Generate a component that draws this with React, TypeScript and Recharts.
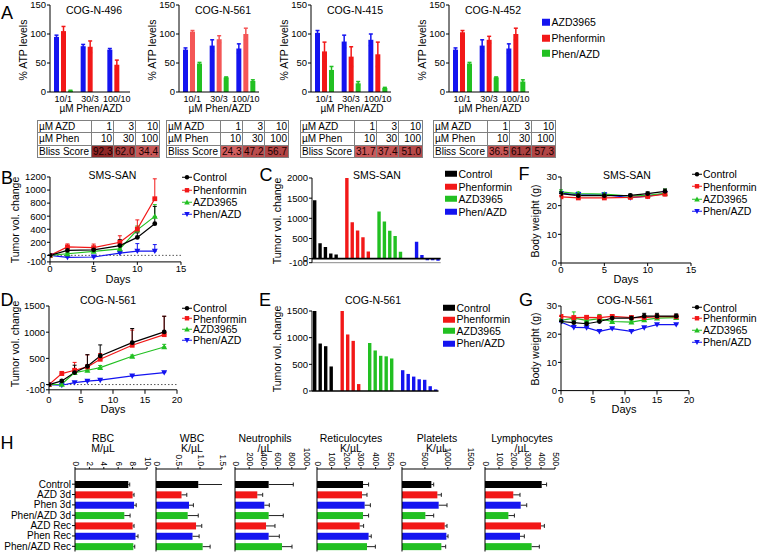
import React from "react";
import { BarChart, Bar, LineChart, Line, XAxis, YAxis, ErrorBar, Cell, ReferenceLine } from "recharts";

const FONT = "'Liberation Sans', Arial, Helvetica, sans-serif";
const BLACK = "#000000";
const RED = "#f21818";
const RED_SOFT = "#f45656";
const BLUE = "#1414f0";
const GREEN = "#22c022";

// panel A: ATP levels, order of lines = atpLines
const doseLabels = ["10/1", "30/3", "100/10"];
const atpLines = ["COG-N-496", "COG-N-561", "COG-N-415", "COG-N-452"];
const atpAzd = [[95, 79, 73], [73, 80, 75], [102, 87, 90], [73, 80, 75]];
const atpAzdErr = [[3, 3, 2], [3, 10, 8], [4, 11, 10], [3, 10, 8]];
const atpPhen = [[105, 78, 47], [104, 91, 100], [70, 61, 65], [103, 90, 100]];
const atpPhenErr = [[8, 10, 8], [2, 6, 10], [16, 17, 21], [3, 6, 10]];
const atpCombo = [[2, 0, 0], [49, 25, 19], [38, 15, 7], [49, 25, 18]];
const atpComboErr = [[1, 0, 0], [2, 1, 2], [6, 3, 1], [2, 1, 3]];
const blissAzd = [1, 3, 10];
const blissPhen = [10, 30, 100];
const blissScores = [[92.3, 62.0, 34.4], [24.3, 47.2, 56.7], [31.7, 37.4, 51.0], [36.5, 61.2, 57.3]];

// in vivo groups
const groupNames = ["Control", "Phenformin", "AZD3965", "Phen/AZD"];
const groupColors = [BLACK, RED, GREEN, BLUE];
const groupMarks = ["circle", "square", "up", "down"];

// B: SMS-SAN tumour volume
const sanDays = [0, 2, 5, 8, 10, 12];
const sanVol = [
  [0, 75, 85, 150, 275, 485],
  [0, 130, 118, 200, 403, 867],
  [0, 25, 60, 100, 390, 597],
  [0, -30, -25, 35, 65, 65],
];
const sanVolErr = [
  [0, 30, 35, 90, 70, 265],
  [0, 45, 55, 100, 140, 305],
  [0, 20, 25, 30, 60, 180],
  [0, 15, 15, 20, 115, 100],
];

// C: SMS-SAN waterfall
const sanWaterfall = [
  [1450, 380, 290, 130, 100],
  [2000, 900, 700, 530, 180],
  [1170, 920, 690, 560, 170],
  [420, 90, -40, -40, -50],
];
const sanGaps = [1, 1, 2];

// D: COG-N-561 tumour volume
const cogDays = [0, 2, 4, 6, 8, 13, 18];
const cogVol = [
  [0, 70, 229, 350, 547, 800, 1005],
  [0, 210, 273, 337, 483, 750, 953],
  [0, 6, 229, 273, 324, 540, 718],
  [0, -13, 38, 64, 83, 165, 229],
];
const cogVolErr = [
  [0, 25, 140, 220, 210, 270, 300],
  [0, 40, 150, 230, 110, 290, 350],
  [0, 20, 40, 30, 40, 25, 50],
  [0, 10, 15, 15, 15, 20, 25],
];

// E: COG-N-561 waterfall
const cogWaterfall = [
  [1500, 890, 840, 460],
  [1500, 1060, 940, 130],
  [900, 760, 660, 650, 610],
  [390, 320, 270, 220, 210, 90, 30],
];
const cogGaps = [1, 1, 1];

// F: SMS-SAN body weight
const sanWeight = [
  [24.2, 23.5, 23.5, 23.6, 24.2, 25.0],
  [23.1, 22.7, 22.7, 22.9, 23.2, 24.0],
  [24.8, 24.2, 24.0, 23.3, 23.6, 24.3],
  [24.3, 23.9, 23.8, 22.8, 23.3, 24.2],
];
const sanWeightErr = [
  [0.6, 0.5, 0.5, 0.4, 0.6, 0.8],
  [0.5, 0.4, 0.4, 0.4, 0.4, 0.5],
  [0.7, 0.6, 0.6, 0.4, 0.4, 1.5],
  [0.4, 0.4, 0.4, 0.4, 0.4, 0.4],
];

// G: COG-N-561 body weight
const cogWeightDays = [0, 2, 4, 6, 8, 11, 13, 15, 18];
const cogWeight = [
  [24.5, 24.1, 23.7, 24.5, 25.7, 25.7, 26.4, 26.4, 26.4],
  [26.3, 25.9, 26.0, 25.9, 26.3, 25.9, 25.9, 26.2, 26.2],
  [24.9, 25.7, 24.9, 25.5, 24.5, 24.3, 25.1, 25.7, 25.9],
  [24.3, 22.4, 22.3, 21.0, 22.0, 21.0, 22.3, 23.4, 23.4],
];
const cogWeightErr = [
  [0.5, 0.6, 0.6, 0.6, 0.8, 0.8, 1.0, 1.0, 0.8],
  [0.4, 0.5, 0.5, 0.8, 0.6, 0.4, 0.5, 0.5, 0.5],
  [0.5, 2.2, 0.8, 1.5, 0.6, 0.6, 0.6, 0.6, 0.6],
  [0.4, 0.3, 0.3, 0.3, 0.3, 0.3, 0.3, 0.3, 0.3],
];

// H: blood counts
const cbcGroups = ["Control", "AZD 3d", "Phen 3d", "Phen/AZD 3d", "AZD Rec", "Phen Rec", "Phen/AZD Rec"];
const cbcColors = [BLACK, RED, BLUE, GREEN, RED, BLUE, GREEN];
const rbc = [7.4, 8.0, 8.2, 6.85, 8.0, 8.4, 8.1];
const rbcErr = [0.2, 0.2, 0.3, 0.8, 0.2, 0.35, 0.2];
const wbc = [0.96, 0.58, 0.75, 0.72, 0.91, 0.83, 1.06];
const wbcErr = [0.72, 0.12, 0.1, 0.24, 0.13, 0.15, 0.17];
const neutro = [474, 314, 413, 474, 437, 474, 662];
const neutroErr = [347, 76, 70, 206, 126, 150, 141];
const retic = [314, 307, 325, 314, 291, 352, 341];
const reticErr = [38, 34, 39, 38, 27, 18, 57];
const platelets = [641, 772, 801, 510, 932, 969, 859];
const plateletsErr = [51, 87, 182, 182, 51, 36, 95];
const lympho = [405, 202, 255, 167, 400, 250, 333];
const lymphoErr = [35, 48, 43, 43, 24, 31, 55];

const tickFont = { fontSize: 9.5, fill: "#000", fontFamily: FONT };
const axisLine = { stroke: "#000", strokeWidth: 1 };

type Box = { x0: number; y0: number; x1: number; y1: number };
type Margin = { top: number; right: number; bottom: number; left: number };

function frame(b: Box, yw: number, xh: number, m: Margin) {
  return {
    left: b.x0 - yw - m.left,
    top: b.y0 - m.top,
    width: b.x1 - b.x0 + yw + m.left + m.right,
    height: b.y1 - b.y0 + xh + m.top + m.bottom,
  };
}

function Txt({ x, y, children, size = 10.5, rotate = 0 }: any) {
  return (
    <div
      style={{
        position: "absolute",
        left: x,
        top: y,
        transform: `translate(-50%, -50%) rotate(${rotate}deg)`,
        fontSize: size,
        lineHeight: 1,
        whiteSpace: "nowrap",
      }}
    >
      {children}
    </div>
  );
}

function Marker({ cx, cy, kind, color, s = 2.4 }: any) {
  if (cx == null || cy == null || isNaN(cx) || isNaN(cy)) return <g />;
  if (kind === "circle") return <circle cx={cx} cy={cy} r={s} fill={color} />;
  if (kind === "square") return <rect x={cx - s} y={cy - s} width={2 * s} height={2 * s} fill={color} />;
  const h = s * 1.25;
  if (kind === "up")
    return <polygon points={`${cx},${cy - h} ${cx - h},${cy + h * 0.8} ${cx + h},${cy + h * 0.8}`} fill={color} />;
  return <polygon points={`${cx},${cy + h} ${cx - h},${cy - h * 0.8} ${cx + h},${cy - h * 0.8}`} fill={color} />;
}

function blissColor(v: number) {
  const t = Math.max(0, Math.min(1, (v - 20) / 75));
  const r = Math.round(214 - 76 * t);
  const g = Math.round(100 - 64 * t);
  return `rgb(${r},${g},${g})`;
}

function AtpChart({ i, x0 }: { i: number; x0: number }) {
  const rows = doseLabels.map((d, j) => ({
    dose: d,
    azd: atpAzd[i][j],
    azdErr: atpAzdErr[i][j],
    phen: atpPhen[i][j],
    phenErr: atpPhenErr[i][j],
    combo: atpCombo[i][j],
    comboErr: atpComboErr[i][j],
  }));
  const m = { top: 6, right: 8, bottom: 2, left: 0 };
  const yw = 30;
  const xh = 16;
  const f = frame({ x0, y0: 5, x1: x0 + 80, y1: 92 }, yw, xh, m);
  const red = i === 1 ? RED_SOFT : RED;
  return (
    <>
      <div style={{ position: "absolute", left: f.left, top: f.top }}>
        <BarChart width={f.width} height={f.height} margin={m} data={rows} barSize={5} barGap={2}>
          <XAxis dataKey="dose" height={xh} interval={0} tickLine={false} tickSize={3} tickMargin={1} axisLine={axisLine} tick={{ ...tickFont, fontSize: 9 }} />
          <YAxis width={yw} domain={[0, 150]} ticks={[0, 50, 100, 150]} interval={0} allowDataOverflow tickSize={3} tickMargin={1} axisLine={axisLine} tickLine={axisLine} tick={tickFont} />
          <Bar dataKey="azd" fill={BLUE} isAnimationActive={false}>
            <ErrorBar dataKey="azdErr" width={2} stroke={BLUE} direction="y" />
          </Bar>
          <Bar dataKey="phen" fill={red} isAnimationActive={false}>
            <ErrorBar dataKey="phenErr" width={2} stroke={red} direction="y" />
          </Bar>
          <Bar dataKey="combo" fill={GREEN} isAnimationActive={false}>
            <ErrorBar dataKey="comboErr" width={2} stroke={GREEN} direction="y" />
          </Bar>
        </BarChart>
      </div>
      <Txt x={x0 + 44} y={10}>{atpLines[i]}</Txt>
      <Txt x={x0 - 27} y={50} rotate={-90}>% ATP levels</Txt>
      <Txt x={x0 + 41} y={108.5} size={10}>µM Phen/AZD</Txt>
    </>
  );
}

function BlissTable({ i, left }: { i: number; left: number }) {
  const cell: React.CSSProperties = {
    border: "1px solid #808080",
    padding: "0 1px",
    height: 11.6,
    lineHeight: "11.6px",
    textAlign: "right",
    whiteSpace: "nowrap",
    overflow: "hidden",
  };
  const head: React.CSSProperties = { ...cell, textAlign: "left" };
  return (
    <table style={{ position: "absolute", left, top: 119.5, width: 122, tableLayout: "fixed", borderCollapse: "collapse", fontSize: 10, fontFamily: FONT }}>
      <colgroup>
        <col style={{ width: 54 }} />
        <col style={{ width: 22 }} />
        <col style={{ width: 22 }} />
        <col style={{ width: 24 }} />
      </colgroup>
      <tbody>
        <tr>
          <td style={head}>µM AZD</td>
          {blissAzd.map((v, j) => <td key={j} style={cell}>{v}</td>)}
        </tr>
        <tr>
          <td style={head}>µM Phen</td>
          {blissPhen.map((v, j) => <td key={j} style={cell}>{v}</td>)}
        </tr>
        <tr>
          <td style={head}>Bliss Score</td>
          {blissScores[i].map((v, j) => (
            <td key={j} style={{ ...cell, background: blissColor(v), color: "#1a0000" }}>{v.toFixed(1)}</td>
          ))}
        </tr>
      </tbody>
    </table>
  );
}

function TimeChart({ box, days, vals, errs, yDomain, yTicks, xDomain, xTicks, yw, tickGap, zero }: any) {
  const rows = days.map((d: number, j: number) => {
    const r: any = { day: d };
    vals.forEach((s: number[], k: number) => {
      r[`v${k}`] = s[j];
      r[`e${k}`] = [0, errs[k][j]];
    });
    return r;
  });
  const m = { top: 6, right: 10, bottom: 2, left: 0 };
  const xh = 14;
  const f = frame(box, yw, xh, m);
  const order = [3, 2, 1, 0];
  return (
    <div style={{ position: "absolute", left: f.left, top: f.top }}>
      <LineChart width={f.width} height={f.height} margin={m} data={rows}>
        <XAxis type="number" dataKey="day" domain={xDomain} ticks={xTicks} interval={0} allowDataOverflow height={xh} tickSize={tickGap[0]} tickMargin={tickGap[1]} axisLine={axisLine} tickLine={axisLine} tick={tickFont} />
        <YAxis type="number" domain={yDomain} ticks={yTicks} interval={0} allowDataOverflow width={yw} tickSize={3} tickMargin={1} axisLine={axisLine} tickLine={axisLine} tick={tickFont} />
        {zero && <ReferenceLine y={0} stroke="#555" strokeDasharray="1.5 2" />}
        {order.map((k) => (
          <Line
            key={k}
            dataKey={`v${k}`}
            stroke={groupColors[k]}
            strokeWidth={1.2}
            isAnimationActive={false}
            dot={(p: any) => <Marker key={`m${k}-${p.index}`} cx={p.cx} cy={p.cy} kind={groupMarks[k]} color={groupColors[k]} />}
          >
            <ErrorBar dataKey={`e${k}`} width={2} stroke={groupColors[k]} strokeWidth={1} direction="y" />
          </Line>
        ))}
      </LineChart>
    </div>
  );
}

function Waterfall({ groups, gaps, box, yDomain, yTicks, zeroAtBase }: any) {
  const rows: any[] = [];
  groups.forEach((vals: number[], k: number) => {
    vals.forEach((v) => rows.push({ k: `b${rows.length}`, v, c: k }));
    if (k < gaps.length) for (let g = 0; g < gaps[k]; g++) rows.push({ k: `g${rows.length}`, v: null, c: -1 });
  });
  const m = { top: 6, right: 4, bottom: 2, left: 0 };
  const yw = 36;
  const xh = 2;
  const f = frame(box, yw, xh, m);
  return (
    <div style={{ position: "absolute", left: f.left, top: f.top }}>
      <BarChart width={f.width} height={f.height} margin={m} data={rows} barSize={3.4}>
        <XAxis dataKey="k" height={xh} tick={false} tickLine={false} axisLine={zeroAtBase ? { stroke: "#000", strokeWidth: 1.6 } : { stroke: "#8a8a8a", strokeWidth: 1 }} />
        <YAxis type="number" domain={yDomain} ticks={yTicks} interval={0} allowDataOverflow width={yw} tickSize={3} tickMargin={1} axisLine={axisLine} tickLine={axisLine} tick={tickFont} />
        {!zeroAtBase && <ReferenceLine y={0} stroke="#000" strokeWidth={1.6} />}
        <Bar dataKey="v" isAnimationActive={false}>
          {rows.map((r, j) => <Cell key={j} fill={r.c >= 0 ? groupColors[r.c] : "none"} />)}
        </Bar>
      </BarChart>
    </div>
  );
}

function LineLegend({ x, ys }: { x: number; ys: number[] }) {
  return (
    <>
      {groupNames.map((n, k) => (
        <div key={n} style={{ position: "absolute", left: x, top: ys[k], transform: "translateY(-50%)", display: "flex", alignItems: "center", fontSize: 10.5, lineHeight: 1, whiteSpace: "nowrap" }}>
          <svg width={10} height={7} style={{ display: "block" }}>
            <line x1={0} y1={3.5} x2={10} y2={3.5} stroke={groupColors[k]} strokeWidth={1.2} />
            <Marker cx={5} cy={3.5} kind={groupMarks[k]} color={groupColors[k]} s={2.2} />
          </svg>
          <span style={{ marginLeft: 1 }}>{n}</span>
        </div>
      ))}
    </>
  );
}

function SquareLegend({ x, ys, names, colors, w, h }: any) {
  return (
    <>
      {names.map((n: string, k: number) => (
        <div key={n} style={{ position: "absolute", left: x, top: ys[k], transform: "translateY(-50%)", display: "flex", alignItems: "center", fontSize: 10.5, lineHeight: 1, whiteSpace: "nowrap" }}>
          <div style={{ width: w, height: h, background: colors[k] }} />
          <span style={{ marginLeft: 1.5 }}>{n}</span>
        </div>
      ))}
    </>
  );
}

function VTick({ x, y, payload, fmt }: any) {
  return (
    <text x={x} y={y} transform={`rotate(90 ${x} ${y})`} textAnchor="end" dominantBaseline="central" fontSize={8.2} fill="#000" fontFamily={FONT}>
      {fmt(payload.value)}
    </text>
  );
}

function CatTick({ x, y, payload }: any) {
  return (
    <text x={x} y={y} textAnchor="end" dominantBaseline="central" fontSize={10} fill="#000" fontFamily={FONT}>
      {payload.value}
    </text>
  );
}

function HBar(props: any) {
  const { x, y, width, height, fill, payload } = props;
  if (x == null || width == null) return <g />;
  const v = payload.v;
  const e = payload.e;
  const end = x + width;
  const errEnd = v ? x + (width * (v + e)) / v : end;
  const cy = y + height / 2;
  return (
    <g>
      <rect x={x} y={y} width={width} height={height} fill={fill} />
      <line x1={end} y1={cy} x2={errEnd} y2={cy} stroke="#222" strokeWidth={1} />
      <line x1={errEnd} y1={cy - 2} x2={errEnd} y2={cy + 2} stroke="#222" strokeWidth={1} />
    </g>
  );
}

function CbcChart({ vals, errs, x0, x1, max, ticks, fmt, labels }: any) {
  const rows = cbcGroups.map((g, j) => ({ g, v: vals[j], e: errs[j] }));
  const yw = labels ? 75 : 4;
  const xh = 24;
  const m = { top: 2, right: 10, bottom: 2, left: 6 };
  const y0 = 469;
  const y1 = 551.5;
  const left = x0 - yw - m.left;
  const top = y0 - xh - m.top;
  const width = x1 - x0 + yw + m.left + m.right;
  const height = y1 - y0 + xh + m.top + m.bottom;
  return (
    <div style={{ position: "absolute", left, top }}>
      <BarChart layout="vertical" width={width} height={height} margin={m} data={rows}>
        <XAxis type="number" orientation="top" domain={[0, max]} ticks={ticks} interval={0} allowDataOverflow height={xh} tickSize={2} tickMargin={1} axisLine={axisLine} tickLine={axisLine} tick={<VTick fmt={fmt} />} />
        <YAxis type="category" dataKey="g" width={yw} interval={0} padding={{ top: 10, bottom: 0 }} tickSize={3} tickMargin={1} axisLine={axisLine} tickLine={axisLine} tick={labels ? <CatTick /> : false} />
        <Bar dataKey="v" barSize={7} shape={HBar} isAnimationActive={false}>
          {rows.map((_, j) => <Cell key={j} fill={cbcColors[j]} />)}
        </Bar>
      </BarChart>
    </div>
  );
}

const intFmt = (v: number) => `${v}`;
const decFmt = (v: number) => (v === 0 ? "0" : v.toFixed(1));

export default function App() {
  const atpAxes = [50, 179, 311, 449];
  const tableLefts = [37, 166, 300, 433];
  return (
    <div style={{ position: "absolute", left: 0, top: 0, width: 757, height: 554, background: "#fff", fontFamily: FONT, color: "#000", overflow: "hidden" }}>
      <Txt x={7} y={12.5} size={18}>A</Txt>
      {atpAxes.map((x0, i) => <AtpChart key={i} i={i} x0={x0} />)}
      {tableLefts.map((l, i) => <BlissTable key={i} i={i} left={l} />)}
      <SquareLegend x={542} ys={[22, 38, 53.5]} names={["AZD3965", "Phenformin", "Phen/AZD"]} colors={[BLUE, RED, GREEN]} w={8} h={7} />

      <Txt x={7} y={178} size={18}>B</Txt>
      <TimeChart box={{ x0: 50, y0: 177.3, x1: 181, y1: 262.2 }} days={sanDays} vals={sanVol} errs={sanVolErr} yDomain={[-100, 1200]} yTicks={[-100, 0, 200, 400, 600, 800, 1000, 1200]} xDomain={[0, 15]} xTicks={[0, 5, 10, 15]} yw={40} tickGap={[3, 0]} zero />
      <Txt x={112.5} y={175}>SMS-SAN</Txt>
      <Txt x={15} y={220} rotate={-90}>Tumor vol. change</Txt>
      <Txt x={118} y={279} size={11}>Days</Txt>
      <LineLegend x={182} ys={[177, 190, 202, 214]} />

      <Txt x={266} y={175} size={18}>C</Txt>
      <Waterfall groups={sanWaterfall} gaps={sanGaps} box={{ x0: 312.3, y0: 178.3, x1: 441, y1: 263 }} yDomain={[-100, 2000]} yTicks={[-100, 0, 500, 1000, 1500, 2000]} />
      <Txt x={377} y={175}>SMS-SAN</Txt>
      <Txt x={277} y={221} rotate={-90}>Tumor vol. change</Txt>
      <SquareLegend x={445} ys={[174, 186.7, 199, 211.5]} names={groupNames} colors={groupColors} w={12} h={6} />

      <Txt x={524} y={174} size={18}>F</Txt>
      <TimeChart box={{ x0: 561, y0: 177.3, x1: 691, y1: 263.3 }} days={sanDays} vals={sanWeight} errs={sanWeightErr} yDomain={[0, 30]} yTicks={[0, 10, 20, 30]} xDomain={[0, 15]} xTicks={[0, 5, 10, 15]} yw={30} tickGap={[3, 0]} />
      <Txt x={627} y={175}>SMS-SAN</Txt>
      <Txt x={535} y={221} rotate={-90}>Body weight (g)</Txt>
      <Txt x={626} y={279.3} size={11}>Days</Txt>
      <LineLegend x={692} ys={[174, 186.7, 199, 211]} />

      <Txt x={7} y={300} size={18}>D</Txt>
      <TimeChart box={{ x0: 49, y0: 305.7, x1: 177, y1: 389.5 }} days={cogDays} vals={cogVol} errs={cogVolErr} yDomain={[-100, 1500]} yTicks={[-100, 0, 500, 1000, 1500]} xDomain={[0, 20]} xTicks={[0, 5, 10, 15, 20]} yw={40} tickGap={[4, 2]} zero />
      <Txt x={108} y={300}>COG-N-561</Txt>
      <Txt x={15} y={344} rotate={-90}>Tumor vol. change</Txt>
      <Txt x={113} y={409} size={11}>Days</Txt>
      <LineLegend x={182} ys={[308, 318.7, 329.3, 340]} />

      <Txt x={265} y={300} size={18}>E</Txt>
      <Waterfall groups={cogWaterfall} gaps={cogGaps} box={{ x0: 311.5, y0: 311, x1: 438, y1: 391 }} yDomain={[0, 1500]} yTicks={[0, 500, 1000, 1500]} zeroAtBase />
      <Txt x={373} y={300}>COG-N-561</Txt>
      <Txt x={277} y={349} rotate={-90}>Tumor vol. change</Txt>
      <SquareLegend x={443} ys={[307.7, 319.3, 330.7, 343.3]} names={groupNames} colors={groupColors} w={12} h={6} />

      <Txt x={526} y={300} size={18}>G</Txt>
      <TimeChart box={{ x0: 561, y0: 305.7, x1: 689, y1: 390.3 }} days={cogWeightDays} vals={cogWeight} errs={cogWeightErr} yDomain={[0, 30]} yTicks={[0, 10, 20, 30]} xDomain={[0, 20]} xTicks={[0, 5, 10, 15, 20]} yw={30} tickGap={[4, 2]} />
      <Txt x={625} y={300}>COG-N-561</Txt>
      <Txt x={535} y={349} rotate={-90}>Body weight (g)</Txt>
      <Txt x={624} y={409} size={11}>Days</Txt>
      <LineLegend x={692} ys={[307.7, 318.3, 330, 342.3]} />

      <Txt x={7} y={443} size={18}>H</Txt>
      <Txt x={103} y={437.7}>RBC</Txt>
      <Txt x={103} y={448.3}>M/µL</Txt>
      <Txt x={192} y={437.7}>WBC</Txt>
      <Txt x={192} y={448.3}>K/µL</Txt>
      <Txt x={265} y={437.7}>Neutrophils</Txt>
      <Txt x={265} y={448.3}>/µL</Txt>
      <Txt x={351} y={437.7}>Reticulocytes</Txt>
      <Txt x={351} y={448.3}>K/µL</Txt>
      <Txt x={437} y={437.7}>Platelets</Txt>
      <Txt x={437} y={448.3}>K/µL</Txt>
      <Txt x={522} y={437.7}>Lymphocytes</Txt>
      <Txt x={522} y={448.3}>/µL</Txt>
      <CbcChart vals={rbc} errs={rbcErr} x0={75} x1={147} max={10} ticks={[0, 2, 4, 6, 8, 10]} fmt={intFmt} labels />
      <CbcChart vals={wbc} errs={wbcErr} x0={156} x1={222} max={1.5} ticks={[0, 0.5, 1.0, 1.5]} fmt={decFmt} />
      <CbcChart vals={neutro} errs={neutroErr} x0={235} x1={306} max={1000} ticks={[0, 200, 400, 600, 800, 1000]} fmt={intFmt} />
      <CbcChart vals={retic} errs={reticErr} x0={316.7} x1={390} max={500} ticks={[0, 100, 200, 300, 400, 500]} fmt={intFmt} />
      <CbcChart vals={platelets} errs={plateletsErr} x0={402.3} x1={471} max={1500} ticks={[0, 500, 1000, 1500]} fmt={intFmt} />
      <CbcChart vals={lympho} errs={lymphoErr} x0={485} x1={555} max={500} ticks={[0, 100, 200, 300, 400, 500]} fmt={intFmt} />
    </div>
  );
}
